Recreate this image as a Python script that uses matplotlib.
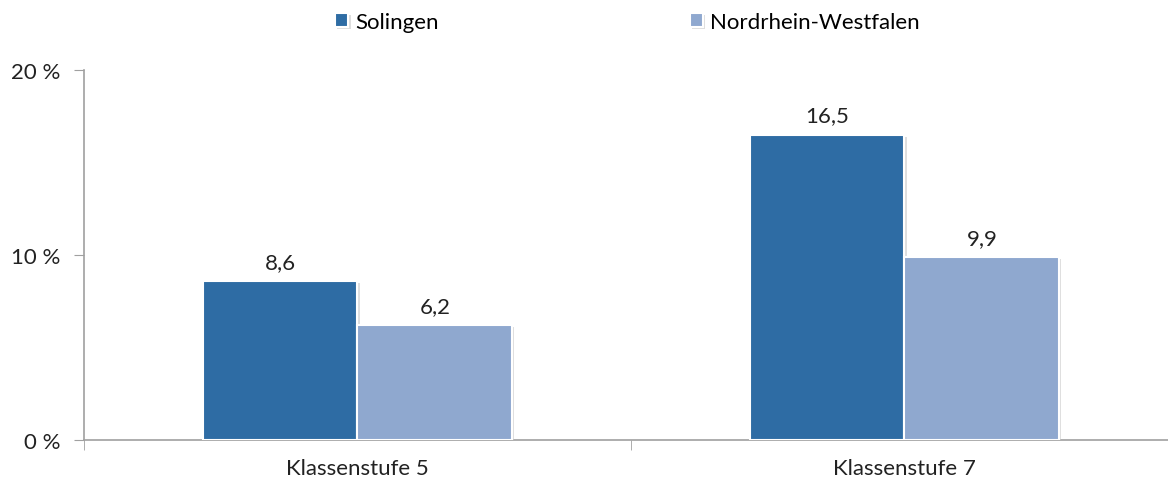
import numpy as np
import matplotlib.pyplot as plt
import matplotlib.patheffects as pe

plt.rcParams['font.family'] = ['Lato', 'DejaVu Sans']

kategorien = ['Klassenstufe 5', 'Klassenstufe 7']
solingen = [8.6, 16.5]
nrw = [6.2, 9.9]
serien = ['Solingen', 'Nordrhein-Westfalen']
farben = ['#2E6CA4', '#8FA8CF']
yticks = [0, 10, 20]
ytick_labels = ['0 %', '10 %', '20 %']

fig = plt.figure(figsize=(11.68, 4.85), dpi=100)
ax = fig.add_axes([0.0719, 0.0907, 0.9366, 0.7629])

x = np.arange(len(kategorien))
w = 0.283
schatten = [pe.SimplePatchShadow(offset=(1.5, -1.5), shadow_rgbFace='#C8C8C8', alpha=0.6), pe.Normal()]

for i, (werte, name) in enumerate(zip([solingen, nrw], serien)):
    pos = x + (i - 0.5) * w
    bars = ax.bar(pos, werte, width=w, color=farben[i], edgecolor='white',
                  linewidth=1.5, label=name, zorder=3)
    for b in bars:
        b.set_path_effects(schatten)
    for p, v in zip(pos, werte):
        ax.text(p, v + 0.5, ('%.1f' % v).replace('.', ','), ha='center', va='bottom',
                fontsize=16, color='#222222')

ax.set_xlim(-0.5, 1.5)
ax.set_ylim(0, 20)
ax.set_yticks(yticks)
ax.set_yticklabels(ytick_labels, fontsize=16, color='#222222')
ax.set_xticks(x)
ax.set_xticklabels(kategorien, fontsize=16, color='#222222')
ax.set_xticks([-0.5, 0.5, 1.5], minor=True)
ax.tick_params(axis='x', which='major', length=0, pad=13)
ax.tick_params(axis='x', which='minor', length=7, color='#A0A0A0', direction='out')
ax.tick_params(axis='y', length=7, color='#A0A0A0', pad=10)

for s in ['top', 'right']:
    ax.spines[s].set_visible(False)
for s in ['left', 'bottom']:
    ax.spines[s].set_color('#A0A0A0')
    ax.spines[s].set_linewidth(1.2)

fig.legend(loc='upper center', bbox_to_anchor=(0.537, 1.015), ncol=2, frameon=False,
           fontsize=16, handlelength=0.6, handleheight=0.6, handletextpad=0.3,
           columnspacing=11.3)

plt.savefig('out.png', dpi=100)
